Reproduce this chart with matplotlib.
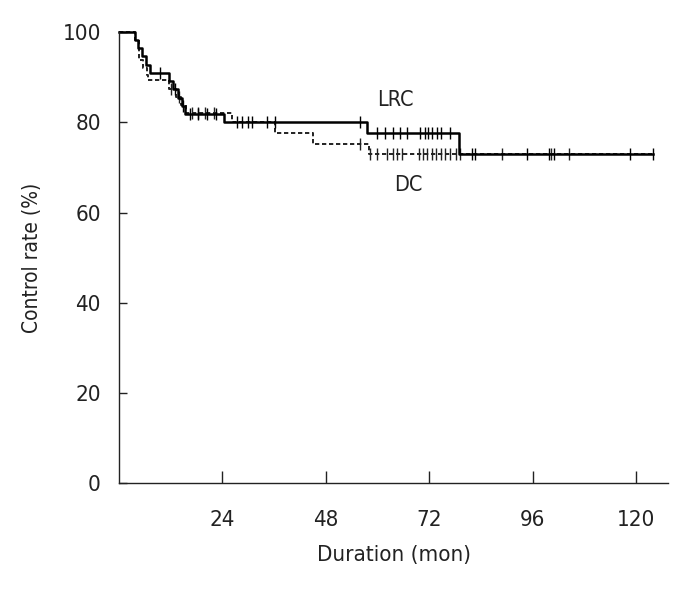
import numpy as np
import matplotlib
matplotlib.use("Agg")
import matplotlib.pyplot as plt
from matplotlib import font_manager

# pick a narrow face if one is installed
names = {f.name for f in font_manager.fontManager.ttflist}
narrow = [n for n in ['Liberation Sans Narrow', 'DejaVu Sans Condensed'] if n in names]
plt.rcParams['font.family'] = narrow + ['DejaVu Sans']
plt.rcParams['font.stretch'] = 'condensed'

# Kaplan-Meier step data (months, %)
lrc_times = [0, 3.8, 4.4, 5.3, 6.2, 7.1, 11.6, 12.6, 13.7, 14.5, 15.3, 24.3, 57.5, 78.8]
lrc_surv = [100, 98.2, 96.4, 94.6, 92.8, 91.0, 89.1, 87.3, 85.5, 83.7, 81.9, 80.0, 77.6, 72.9]
lrc_end = 124.0
lrc_censor = [9.5, 13.0, 14.8, 16.5, 18.4, 20.4, 22.5, 27.3, 28.5, 30.0, 30.8, 34.3, 36.2,
              56.0, 59.9, 61.8, 63.6, 65.1, 66.8, 69.9, 70.9, 71.7, 72.6, 73.7, 74.6, 76.9,
              81.9, 82.5, 94.7, 99.7, 100.9, 118.5, 123.8]

dc_times = [0, 3.8, 4.6, 5.6, 6.4, 6.7, 11.7, 13.2, 14.3, 15.6, 26.2, 36.2, 45.1, 57.9]
dc_surv = [100, 98.2, 93.8, 92.0, 90.5, 89.3, 87.5, 85.7, 83.9, 82.1, 80.0, 77.6, 75.3, 72.9]
dc_end = 123.6
dc_censor = [12.0, 14.0, 16.9, 18.4, 20.0, 22.0, 56.0, 58.3, 59.9, 62.2, 63.6, 64.5, 65.7,
             69.5, 70.5, 71.5, 72.6, 73.6, 74.7, 75.7, 76.8, 78.3, 79.2, 88.9, 100.3, 104.4]

x_ticks = [24, 48, 72, 96, 120]
y_ticks = [0, 20, 40, 60, 80, 100]


def step_value(times, surv, t):
    idx = np.searchsorted(times, t, side='right') - 1
    return np.asarray(surv)[idx]


fig = plt.figure(figsize=(6.92, 5.95), dpi=100)
ax = fig.add_axes([0.172, 0.188, 0.794, 0.758])

# DC (dashed)
tx = dc_times + [dc_end]
sy = dc_surv + [dc_surv[-1]]
ax.step(tx, sy, where='post', color='#222222', lw=1.4, ls=(0, (2.2, 1.4)), clip_on=False)
ax.plot(dc_censor, step_value(dc_times, dc_surv, dc_censor), ls='none', marker='|',
        ms=8, mew=1.0, color='#222222', clip_on=False)

# LRC (solid)
tx = lrc_times + [lrc_end]
sy = lrc_surv + [lrc_surv[-1]]
ax.step(tx, sy, where='post', color='black', lw=1.8, clip_on=False)
ax.plot(lrc_censor, step_value(lrc_times, lrc_surv, lrc_censor), ls='none', marker='|',
        ms=8, mew=1.0, color='black', clip_on=False)

ax.text(64.1, 84.9, 'LRC', fontsize=15.5, ha='center', va='center', color='#222222')
ax.text(67.1, 66.1, 'DC', fontsize=15.5, ha='center', va='center', color='#222222')

ax.set_xlim(0, 127.5)
ax.set_ylim(0, 100)
ax.set_xticks(x_ticks)
ax.set_yticks(y_ticks)
ax.tick_params(axis='x', direction='in', length=9, width=1, pad=19, labelsize=16, colors='#222222')
ax.tick_params(axis='y', direction='in', length=6, width=1, pad=13, labelsize=16, colors='#222222')
for s in ['top', 'right']:
    ax.spines[s].set_visible(False)
for s in ['left', 'bottom']:
    ax.spines[s].set_linewidth(1.0)
    ax.spines[s].set_color('#222222')

ax.set_xlabel('Duration (mon)', fontsize=16, labelpad=11, color='#222222')
ax.set_ylabel('Control rate (%)', fontsize=15, labelpad=15, color='#222222')

fig.savefig('out.png', dpi=100)
